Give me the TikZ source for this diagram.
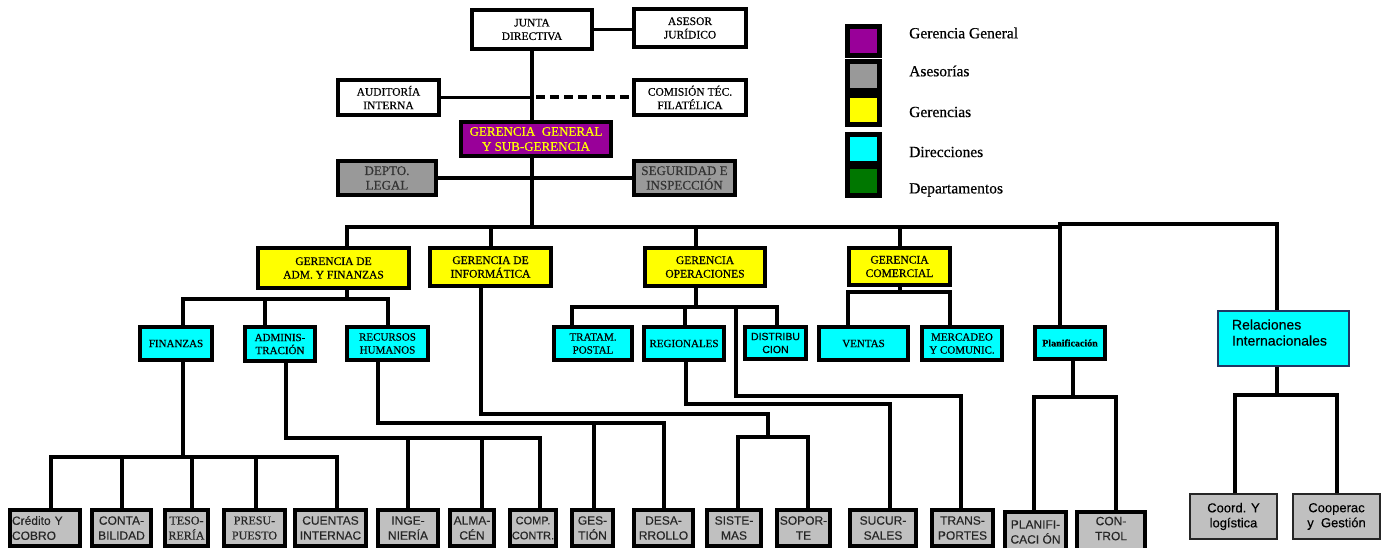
\documentclass[tikz,border=0pt]{standalone}
\usepackage{fontspec}
\setmainfont{Liberation Serif}[FakeBold=0.5]
\setsansfont{Liberation Sans}[FakeBold=0.3]
\pgfdeclarelayer{bg}
\pgfsetlayers{bg,main}
\definecolor{gpurple}{HTML}{990099}
\definecolor{ggray}{HTML}{999999}
\definecolor{lgray}{HTML}{C0C0C0}
\definecolor{gyellow}{HTML}{FFFF00}
\definecolor{gcyan}{HTML}{00FFFF}
\definecolor{ggreen}{HTML}{007700}
\definecolor{navyb}{HTML}{1F3864}
\newcommand{\BX}[7]{%
  \pgfmathsetmacro\bxX{(#3+#5)/2}%
  \pgfmathsetmacro\bxY{(#4+#6)/2}%
  \pgfmathsetmacro\bxW{#5-#3}%
  \pgfmathsetmacro\bxH{#6-#4}%
  \node[#1, minimum width=\bxW pt, minimum height=\bxH pt, anchor=center] (#2) at (\bxX,\bxY) {#7};}
\tikzset{
  base/.style={draw=black, line width=4pt, inner sep=0pt, align=center},
  wbox/.style={base, fill=white, font=\fontsize{11.5}{13.5}\selectfont},
  ggbox/.style={base, fill=gpurple, text=gyellow, font=\fontsize{13}{15}\selectfont},
  abox/.style={base, fill=ggray, text=black!80, font=\fontsize{13}{14.5}\selectfont},
  ybox/.style={base, fill=gyellow, font=\fontsize{11.5}{13.5}\selectfont},
  cbox/.style={base, fill=gcyan, font=\fontsize{11}{13}\selectfont},
  dbox/.style={base, fill=lgray, text=black!85, font=\sffamily\fontsize{12}{15}\selectfont},
  tbox/.style={draw=black!85, line width=2pt, inner sep=0pt, align=center, fill=lgray, font=\sffamily\fontsize{13}{15}\selectfont},
  conn/.style={line width=3.5pt, line cap=rect},
  legsq/.style={draw=black, line width=5pt, minimum width=32pt, minimum height=29pt, inner sep=0pt},
  leglab/.style={anchor=west, font=\fontsize{15.5}{17}\selectfont, inner sep=0pt},
}
\begin{document}
\begin{tikzpicture}[x=1pt,y=-1pt]
\useasboundingbox (0,0) rectangle (1386,548);
% top
\BX{wbox}{junta}{472}{10}{592}{49}{JUNTA\\DIRECTIVA}
\BX{wbox}{asesor}{634}{9}{746}{47}{ASESOR\\JURÍDICO}
\BX{wbox}{aud}{338}{80}{439}{115}{AUDITORÍA\\INTERNA}
\BX{wbox}{com}{634}{80}{746}{115}{COMISIÓN TÉC.\\FILATÉLICA}
\BX{ggbox}{gg}{461}{122}{611}{156}{GERENCIA\ \ GENERAL\\Y SUB-GERENCIA}
\BX{abox}{legal}{338}{161}{436}{195}{DEPTO.\\LEGAL}
\BX{abox}{seg}{634}{161}{735}{195}{SEGURIDAD E\\INSPECCIÓN}
% legend
\node[legsq, fill=gpurple] (lg1) at (863.5,41.5) {};
\node[legsq, fill=ggray] (lg2) at (863.5,76.5) {};
\node[legsq, fill=gyellow] (lg3) at (863.5,110.5) {};
\node[legsq, fill=gcyan] (lg4) at (863.5,149) {};
\node[legsq, fill=ggreen] (lg5) at (863.5,181.5) {};
\node[leglab] (lt1) at (909,33) {Gerencia General};
\node[leglab] (lt2) at (909,71) {Asesorías};
\node[leglab] (lt3) at (909,112) {Gerencias};
\node[leglab] (lt4) at (909,152) {Direcciones};
\node[leglab] (lt5) at (909,190) {Departamentos};
% gerencias
\BX{ybox}{gaf}{258}{248}{409}{288}{GERENCIA DE\\ADM. Y FINANZAS}
\BX{ybox}{ginf}{430}{248}{551}{286}{GERENCIA DE\\INFORMÁTICA}
\BX{ybox}{gop}{645}{248}{765}{286}{GERENCIA\\OPERACIONES}
\BX{ybox}{gcom}{849}{248}{950}{285}{GERENCIA\\COMERCIAL}
% direcciones
\BX{cbox}{fin}{140}{327}{212}{360}{FINANZAS}
\BX{cbox}{adm}{245}{327}{315}{361}{ADMINIS-\\TRACIÓN}
\BX{cbox}{rh}{347}{327}{428}{360}{RECURSOS\\HUMANOS}
\BX{cbox}{tra}{554}{327}{632}{360}{TRATAM.\\POSTAL}
\BX{cbox}{reg}{644}{327}{724}{360}{REGIONALES}
\BX{cbox, font=\sffamily\fontsize{10.5}{13}\selectfont}{dis}{745}{327}{806}{359}{DISTRIBU\\CION}
\BX{cbox}{ven}{819}{327}{908}{360}{VENTAS}
\BX{cbox}{mer}{922}{327}{1002}{360}{MERCADEO\\Y COMUNIC.}
\BX{cbox, font=\bfseries\fontsize{10}{12}\selectfont}{pla}{1035}{327}{1105}{359}{Planificación}
\BX{base, draw=navyb, line width=2.5pt, fill=gcyan, font=\sffamily\fontsize{14}{16}\selectfont, text width=103pt, align=left}{rel}{1218}{311}{1349}{366}{Relaciones\\Internacionales\\[-4pt]\mbox{}}
% departamentos
\BX{dbox, text width=66pt, align=left}{cre}{10}{510}{80}{546}{Crédito Y\\COBRO}
\BX{dbox}{con}{92}{510}{151}{546}{CONTA-\\BILIDAD}
\BX{dbox, font=\rmfamily\fontsize{12}{15}\selectfont}{tes}{165}{510}{208}{546}{TESO-\\RERÍA}
\BX{dbox, font=\rmfamily\fontsize{12}{15}\selectfont}{pre}{224}{510}{285}{546}{PRESU-\\PUESTO}
\BX{dbox}{cue}{295}{510}{366}{546}{CUENTAS\\INTERNAC}
\BX{dbox}{ing}{378}{510}{438}{546}{INGE-\\NIERÍA}
\BX{dbox}{alm}{450}{510}{494}{546}{ALMA-\\CÉN}
\BX{dbox, font=\sffamily\fontsize{11}{15}\selectfont}{cmp}{510}{510}{556}{546}{COMP.\\CONTR.}
\BX{dbox}{ges}{572}{510}{613}{546}{GES-\\TIÓN}
\BX{dbox}{des}{634}{510}{693}{546}{DESA-\\RROLLO}
\BX{dbox}{sis}{707}{510}{761}{546}{SISTE-\\MAS}
\BX{dbox}{sop}{777}{510}{830}{546}{SOPOR-\\TE}
\BX{dbox}{suc}{850}{510}{916}{546}{SUCUR-\\SALES}
\BX{dbox}{trn}{932}{510}{993}{546}{TRANS-\\PORTES}
\BX{dbox}{plf}{1005}{512}{1066}{552}{PLANIFI-\\CACI ÓN}
\BX{dbox}{ctl}{1077}{512}{1145}{560}{CON-\\TROL\\~}
\BX{tbox}{crd}{1190}{494}{1277}{539}{Coord. Y\\logística}
\BX{tbox}{coo}{1293}{494}{1380}{539}{Cooperac\\y\ \ Gestión}
% coordinates
\coordinate (b0) at (532,227);
\coordinate (bA) at (347,227);
\coordinate (bI) at (491,227);
\coordinate (bO) at (696,227);
\coordinate (bC) at (900,227);
\coordinate (bP) at (1060,227);
\coordinate (uP) at (1060,224);
\coordinate (uR) at (1277,224);
\coordinate (sA) at (347,299);
\coordinate (sAf) at (183,299);
\coordinate (sAa) at (265,299);
\coordinate (sAr) at (388,299);
\coordinate (sO) at (696,307);
\coordinate (sOt) at (572,307);
\coordinate (sOr) at (685,307);
\coordinate (sOx) at (736,307);
\coordinate (sOd) at (777,307);
\coordinate (sC) at (900,292);
\coordinate (sCv) at (848,292);
\coordinate (sCm) at (950,292);
\coordinate (f0) at (183,457);
\coordinate (f1) at (51,457);
\coordinate (f2) at (122,457);
\coordinate (f3) at (192,457);
\coordinate (f4) at (256,457);
\coordinate (f5) at (337,457);
\coordinate (a0) at (286,438);
\coordinate (a1) at (408,438);
\coordinate (a2) at (482,438);
\coordinate (a3) at (540,438);
\coordinate (r0) at (378,423);
\coordinate (r1) at (594,423);
\coordinate (r2) at (664,423);
\coordinate (i0) at (481,414);
\coordinate (i1) at (768,414);
\coordinate (i2) at (768,437);
\coordinate (i3) at (738,437);
\coordinate (i4) at (808,437);
\coordinate (g0) at (686,404);
\coordinate (g1) at (890,404);
\coordinate (x1) at (736,396);
\coordinate (x2) at (961,396);
\coordinate (p0) at (1073,397);
\coordinate (p1) at (1034,397);
\coordinate (p2) at (1116,397);
\coordinate (q0) at (1277,395);
\coordinate (q1) at (1235,395);
\coordinate (q2) at (1337,395);
\begin{pgfonlayer}{bg}
% top
\draw[conn] (junta.south) -- (junta.south |- gg.north);
\draw[conn] (junta.east) -- (junta.east -| asesor.west);
\draw[conn] (aud.east) -- (aud.east -| junta.south);
\draw[line width=4pt, dash pattern=on 9pt off 5pt] ([xshift=4pt]aud.east -| junta.south) -- (aud.east -| com.west);
\draw[conn] (gg.south -| junta.south) -- (b0);
\draw[conn] (legal.east) -- (seg.west);
% main bus
\draw[conn] (bA) -- (bP);
\draw[conn] (bA) -- (bA |- gaf.north);
\draw[conn] (bI) -- (bI |- ginf.north);
\draw[conn] (bO) -- (bO |- gop.north);
\draw[conn] (bC) -- (bC |- gcom.north);
\draw[line width=4.5pt, line cap=rect] (uP |- pla.north) -- (uP) -- (uR) -- (uR |- rel.north);
% adm y finanzas
\draw[conn] (sA |- gaf.south) -- (sA);
\draw[conn] (sAf |- fin.north) -- (sAf) -- (sAr) -- (sAr |- rh.north);
\draw[conn] (sAa) -- (sAa |- adm.north);
% operaciones
\draw[conn] (sO |- gop.south) -- (sO);
\draw[conn] (sOt |- tra.north) -- (sOt) -- (sOd) -- (sOd |- dis.north);
\draw[conn] (sOr) -- (sOr |- reg.north);
% comercial
\draw[conn] (sC |- gcom.south) -- (sC);
\draw[conn] (sCv |- ven.north) -- (sCv) -- (sCm) -- (sCm |- mer.north);
% finanzas
\draw[conn] (f0 |- fin.south) -- (f0);
\draw[conn] (f1 |- cre.north) -- (f1) -- (f5) -- (f5 |- cue.north);
\draw[conn] (f2) -- (f2 |- con.north);
\draw[conn] (f3) -- (f3 |- tes.north);
\draw[conn] (f4) -- (f4 |- pre.north);
% administracion
\draw[conn] (a0 |- adm.south) -- (a0) -- (a3) -- (a3 |- cmp.north);
\draw[conn] (a1) -- (a1 |- ing.north);
\draw[conn] (a2) -- (a2 |- alm.north);
% recursos humanos
\draw[conn] (r0 |- rh.south) -- (r0) -- (r2) -- (r2 |- des.north);
\draw[conn] (r1) -- (r1 |- ges.north);
% informatica
\draw[conn] (i0 |- ginf.south) -- (i0) -- (i1) -- (i2);
\draw[conn] (i3 |- sis.north) -- (i3) -- (i4) -- (i4 |- sop.north);
% regionales
\draw[conn] (g0 |- reg.south) -- (g0) -- (g1) -- (g1 |- suc.north);
% transportes
\draw[conn] (sOx) -- (x1) -- (x2) -- (x2 |- trn.north);
% planificacion
\draw[conn] (p0 |- pla.south) -- (p0);
\draw[conn] (p1 |- plf.north) -- (p1) -- (p2) -- (p2 |- ctl.north);
% relaciones
\draw[conn] (q0 |- rel.south) -- (q0);
\draw[conn] (q1 |- crd.north) -- (q1) -- (q2) -- (q2 |- coo.north);
\end{pgfonlayer}
\end{tikzpicture}
\end{document}
